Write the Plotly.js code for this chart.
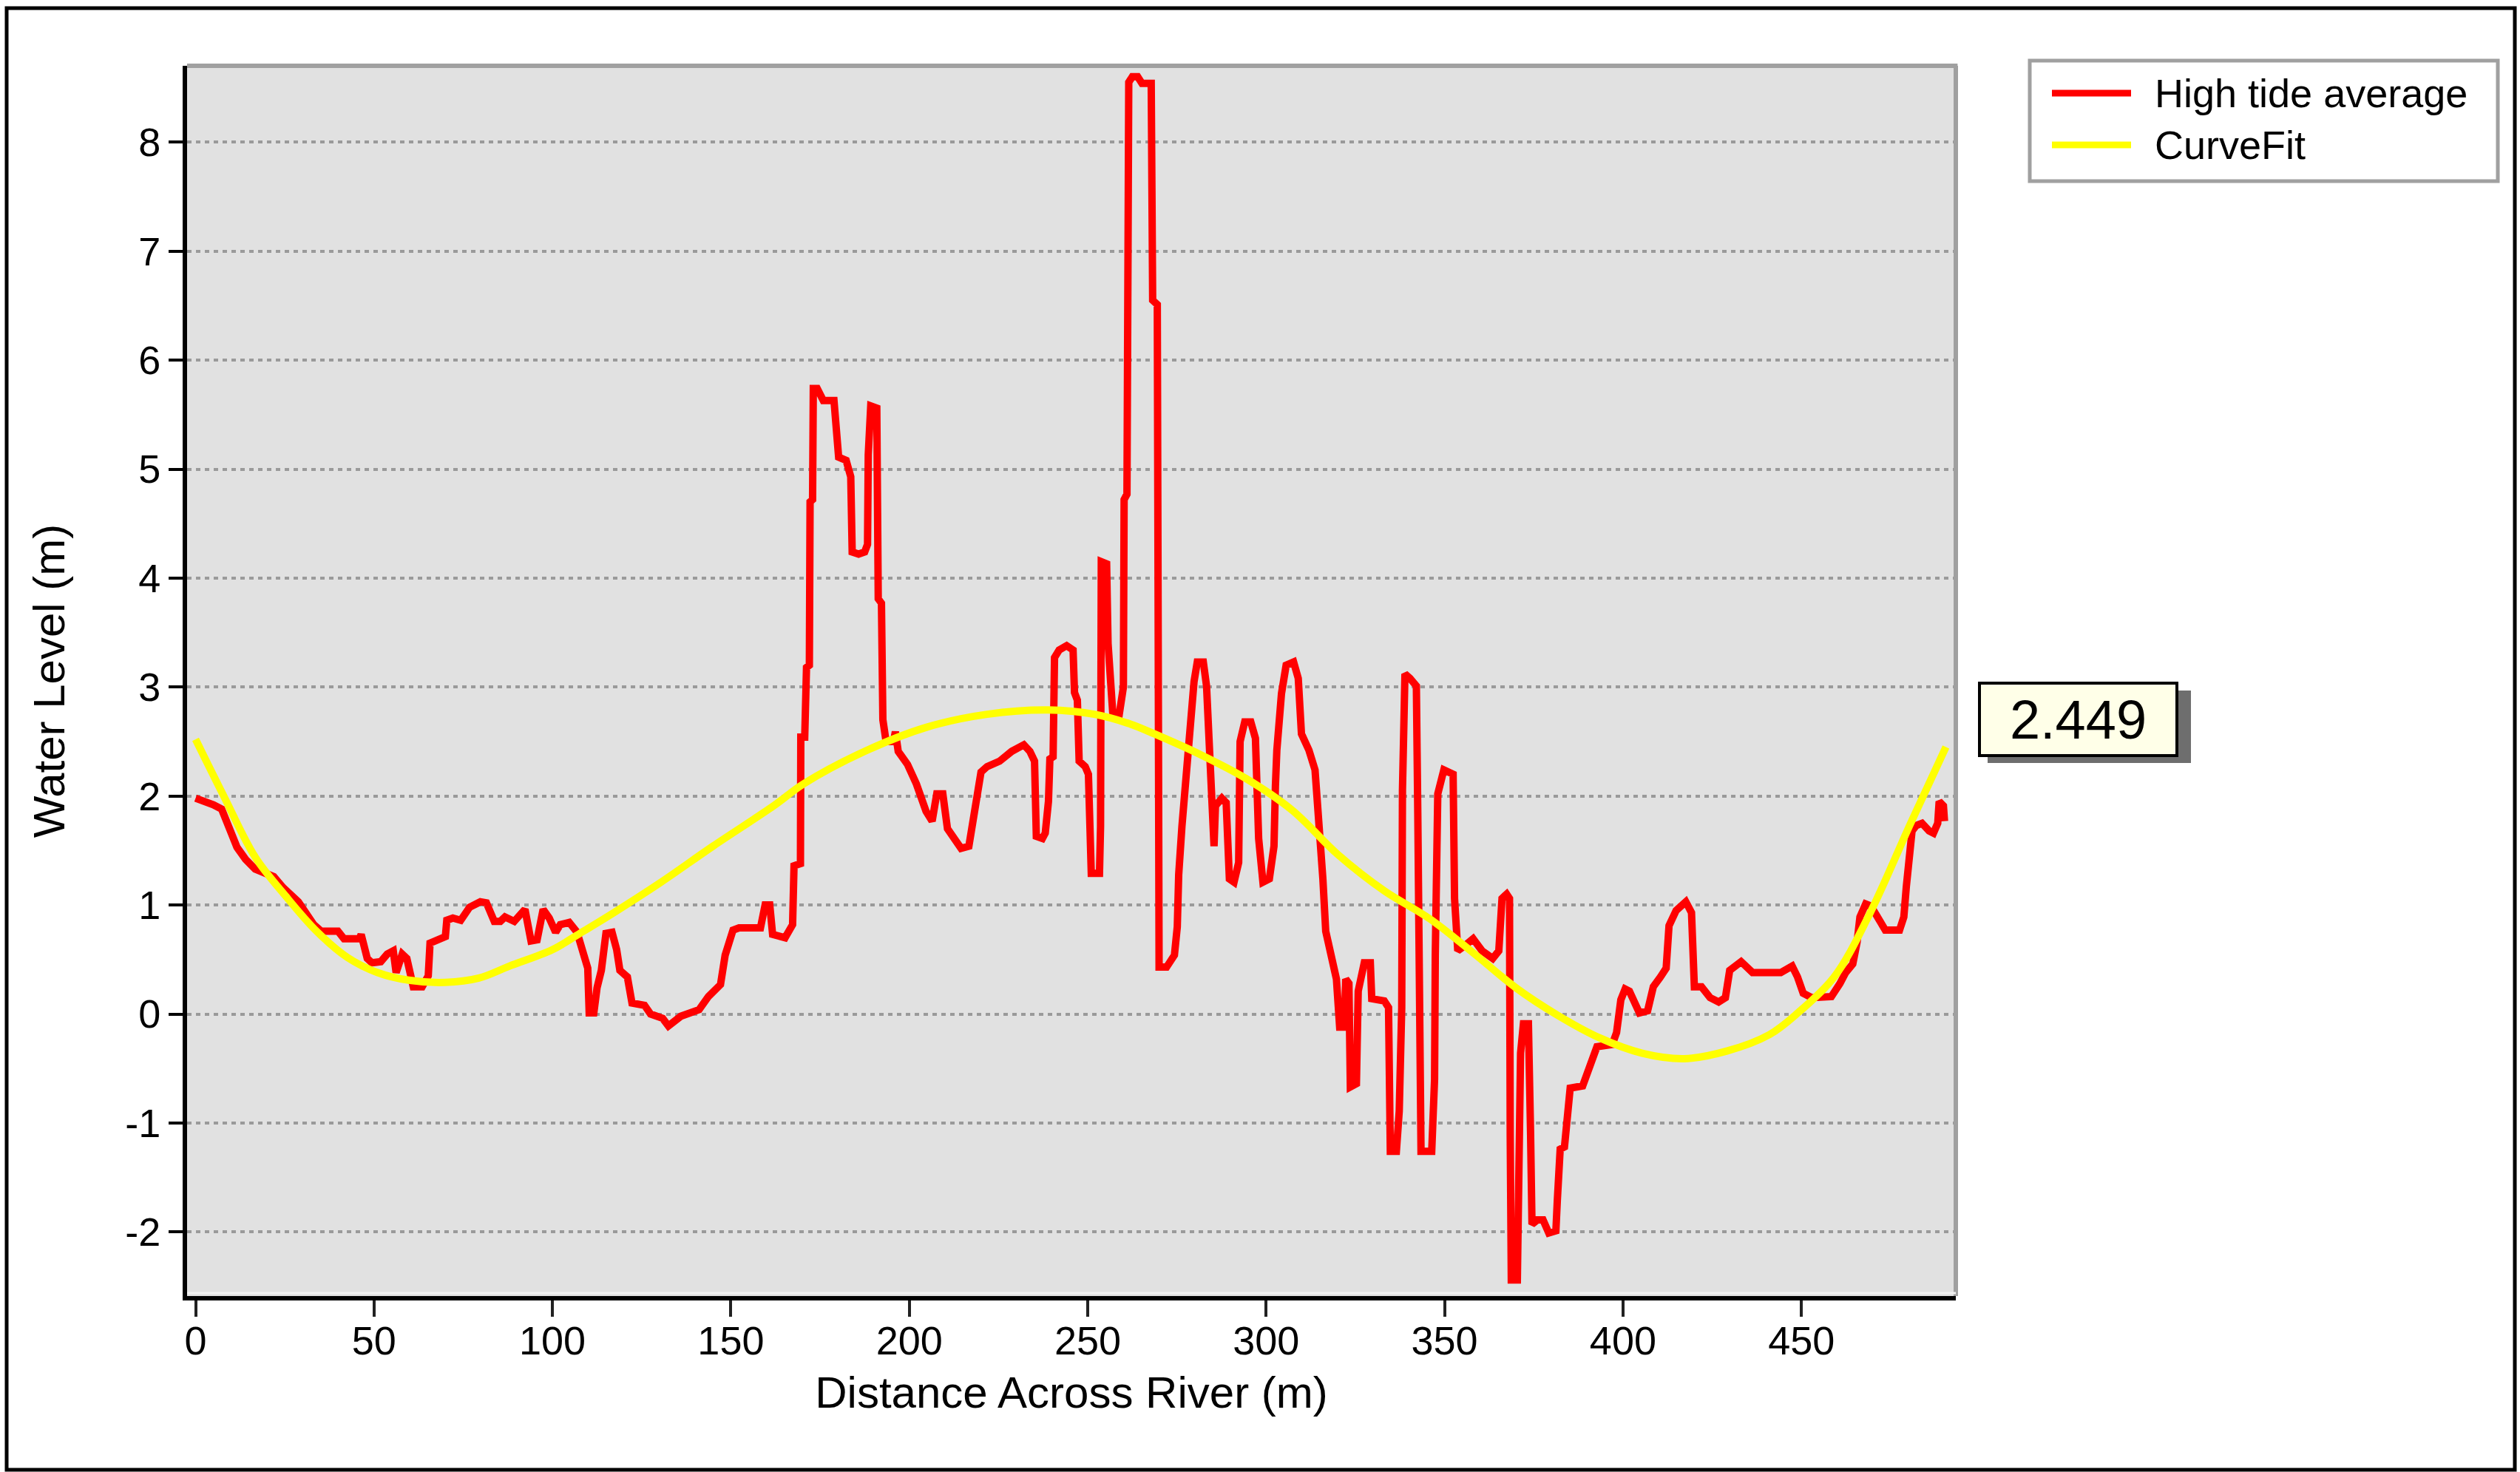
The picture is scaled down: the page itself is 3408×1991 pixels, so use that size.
<!DOCTYPE html>
<html>
<head>
<meta charset="utf-8">
<script src="https://cdn.plot.ly/plotly-3.0.1.min.js"></script>
<style>
  html, body { margin: 0; padding: 0; background: #fff; }
  #chart { width: 3408px; height: 1991px; }
</style>
</head>
<body>
<div id="chart"></div>
<script>
// ================= DATA =================
const seriesNames = ['High tide average', 'CurveFit'];

// red series: distance (m) / water level (m)
const tideDist = [
  0, 2, 5, 7.3, 8.6, 11.6, 14, 16.7, 21.9, 24.5, 28.8, 33.1, 35.2, 39.9, 41.6, 45.9, 46.4, 48.1, 49.4, 51.9,
  53.7, 55.4, 56.2, 57.9, 59.2, 60.5, 61, 63.5, 65.2, 65.7, 67.4, 70, 70.4, 72.1, 74.3, 76.8, 79.8, 81.5, 83.7, 85.4,
  86.7, 89.3, 92.3, 94, 95.7, 97.4, 99.1, 100.9, 102.2, 104.7, 106.9, 108.6, 109.9, 110.3, 111.6, 112.5, 113.7, 115, 116.7, 118,
  118.9, 121, 122.3, 125.8, 127.5, 130.9, 132.5, 136, 141.1, 143.7, 147.1, 148.4, 150.6, 152.3, 158.3, 159.6, 160.9, 161.7, 165.2, 167.3,
  167.7, 169.5, 169.6, 170.7, 171.2, 172, 172.2, 172.9, 173.1, 174.2, 175.9, 178.9, 179.8, 180.2, 182.3, 183.6, 184, 185.8, 187.5, 188.3,
  188.5, 189.2, 190.9, 191.3, 192.2, 192.6, 193.5, 195.6, 196.1, 196.9, 199.5, 202, 204.7, 206.4, 207.7, 209.4, 210.7, 212.8, 214.5, 216.7,
  218.4, 220.1, 221.8, 225.3, 228.7, 232.1, 233.8, 235.1, 235.6, 237.3, 238.1, 239, 239.4, 240.3, 240.7, 242, 244.1, 245.9, 246.3, 247.1,
  247.6, 249.3, 250.2, 250.6, 251, 253.3, 253.6, 253.8, 255.3, 255.7, 256.6, 257, 258.7, 260, 260.2, 261, 261.5, 262.5, 264, 265.2,
  267.8, 268.2, 269.5, 269.6, 270, 272.1, 274.3, 275.1, 275.5, 276.4, 277.7, 278.5, 279.8, 280.7, 282.4, 283.3, 284.1, 284.6, 285.4, 285.8,
  287.6, 288.8, 289.7, 291, 292.3, 292.7, 294, 295.7, 297, 297.9, 299.1, 300.9, 302.2, 302.6, 303, 304.3, 305.6, 307.7, 309, 309.9,
  312, 313.7, 315, 315.9, 316.7, 318.5, 319.7, 320.6, 321.9, 322.3, 323.2, 323.6, 325.3, 325.8, 326.6, 327.5, 329.2, 329.6, 333.1, 334.3,
  334.8, 336.5, 337.3, 338, 338.2, 338.9, 340.3, 342.1, 342.5, 342.9, 343.4, 346.4, 347.2, 347.4, 348.1, 349.8, 352.4, 352.8, 353.7, 355.4,
  358, 360.5, 363.5, 365.2, 366.1, 367.4, 368.2, 368.4, 368.7, 370.4, 370.8, 371.3, 372.1, 373.5, 374.1, 374.5, 376, 377.6, 379.2, 381.2,
  381.6, 382.4, 383.6, 384.4, 385.2, 388.7, 390.3, 391.9, 392.7, 397, 398.2, 399.4, 400.6, 401.8, 404.6, 406.9, 408.5, 410.5, 412.1, 412.9,
  414.9, 417.6, 419.2, 420, 422, 424.4, 426.8, 428.7, 429.9, 433.1, 436.3, 444.2, 447.4, 448.9, 450.5, 452.9, 458.4, 460.8, 462.4, 464.4,
  465.6, 466.4, 468, 469.5, 471.1, 473.5, 477.5, 478.7, 479.4, 480.2, 481, 482.2, 483.8, 485.8, 487, 488.2, 488.6, 489.8, 490.1
];
const tideLevel = [
  1.98, 1.96, 1.92, 1.88, 1.76, 1.53, 1.42, 1.33, 1.26, 1.16, 1.03, 0.82, 0.76, 0.76, 0.69, 0.69, 0.73, 0.51, 0.47, 0.48,
  0.55, 0.58, 0.38, 0.55, 0.51, 0.35, 0.25, 0.25, 0.35, 0.65, 0.68, 0.71, 0.86, 0.88, 0.86, 0.98, 1.03, 1.02, 0.85, 0.85,
  0.89, 0.85, 0.96, 0.67, 0.68, 0.96, 0.88, 0.75, 0.82, 0.84, 0.75, 0.59, 0.42, 0.01, 0.01, 0.24, 0.40, 0.74, 0.75, 0.59,
  0.40, 0.34, 0.10, 0.08, 0.0, -0.04, -0.11, -0.02, 0.04, 0.16, 0.27, 0.54, 0.77, 0.79, 0.79, 1.0, 1.0, 0.73, 0.70, 0.82,
  1.36, 1.38, 2.54, 2.54, 3.18, 3.2, 4.70, 4.72, 5.74, 5.74, 5.63, 5.63, 5.29, 5.11, 5.08, 4.93, 4.24, 4.22, 4.24, 4.31,
  5.13, 5.58, 5.56, 3.81, 3.77, 2.70, 2.50, 2.50, 2.59, 2.41, 2.29, 2.11, 1.86, 1.77, 2.02, 2.02, 1.70, 1.61, 1.52, 1.54,
  1.91, 2.22, 2.27, 2.32, 2.41, 2.47, 2.41, 2.32, 1.63, 1.61, 1.66, 1.95, 2.34, 2.36, 3.27, 3.34, 3.38, 3.34, 2.95, 2.88,
  2.32, 2.27, 2.20, 1.77, 1.29, 1.29, 1.72, 4.15, 4.13, 3.40, 3.0, 2.77, 2.72, 3.0, 4.72, 4.77, 8.55, 8.6, 8.6, 8.54,
  8.54, 6.55, 6.51, 2.57, 0.43, 0.43, 0.54, 0.80, 1.28, 1.72, 2.20, 2.68, 3.05, 3.23, 3.23, 3.01, 2.42, 1.87, 1.54, 1.91,
  1.98, 1.94, 1.24, 1.21, 1.39, 2.50, 2.68, 2.68, 2.53, 1.61, 1.21, 1.24, 1.54, 2.09, 2.42, 2.94, 3.20, 3.23, 3.08, 2.57,
  2.42, 2.24, 1.72, 1.24, 0.76, 0.51, 0.32, -0.12, -0.12, 0.32, 0.28, -0.67, -0.64, 0.21, 0.36, 0.47, 0.47, 0.14, 0.12, 0.06,
  -1.26, -1.26, -0.89, 0.06, 2.05, 3.12, 3.08, 3.01, 1.83, -0.16, -1.26, -1.26, -0.60, 0.54, 2.02, 2.24, 2.20, 1.06, 0.58, 0.62,
  0.69, 0.58, 0.51, 0.58, 1.06, 1.10, 1.06, -1.12, -2.44, -2.44, -1.12, -0.36, -0.09, -0.09, -1.09, -1.93, -1.89, -1.89, -2.01, -1.99,
  -1.71, -1.24, -1.22, -1.01, -0.68, -0.66, -0.50, -0.34, -0.30, -0.28, -0.17, 0.13, 0.23, 0.21, 0.01, 0.03, 0.25, 0.34, 0.42, 0.81,
  0.95, 1.03, 0.93, 0.25, 0.25, 0.15, 0.11, 0.15, 0.40, 0.48, 0.38, 0.38, 0.44, 0.34, 0.19, 0.15, 0.16, 0.28, 0.38, 0.46,
  0.66, 0.89, 1.01, 0.99, 0.89, 0.77, 0.77, 0.89, 1.17, 1.48, 1.68, 1.73, 1.75, 1.68, 1.66, 1.75, 1.95, 1.91, 1.77
];

// yellow series: curve fit, read at intervals along the drawn curve
const fitDist = [
  0, 8.2, 16.7, 25.3, 33.9, 42.5, 51, 59.7, 70, 79.4, 88, 100, 107.7, 117.2, 130, 145, 162, 170.3, 187.5, 204.7,
  221.8, 239, 251.9, 262, 268.7, 281.6, 294.4, 307.3, 320.2, 333.1, 346, 358.8, 370, 381.6, 393.5, 405.4, 417.2, 429.1, 441, 449,
  459.2, 468.7, 480.6, 490.5
];
const fitLevel = [
  2.52, 1.98, 1.44, 1.08, 0.76, 0.52, 0.38, 0.31, 0.29, 0.33, 0.44, 0.59, 0.74, 0.93, 1.2, 1.54, 1.91, 2.11, 2.41, 2.63,
  2.75, 2.79, 2.75, 2.66, 2.57, 2.38, 2.16, 1.87, 1.46, 1.13, 0.87, 0.54, 0.24, -0.01, -0.22, -0.36, -0.41, -0.34, -0.19, 0.01,
  0.34, 0.89, 1.75, 2.45
];

const cursorValue = 2.449;
const xTicks = [0, 50, 100, 150, 200, 250, 300, 350, 400, 450];
const yTicks = [-2, -1, 0, 1, 2, 3, 4, 5, 6, 7, 8];
const yTickText = ['-2', '-1', '0', '1', '2', '3', '4', '5', '6', '7', '8'];

// ================= FRAME (pixel geometry of the original) =================
const W = 3408, H = 1991;
const plotL = 253, plotR = 2645, plotT = 89, plotB = 1753;
const xZeroPx = 264.5, pxPerM = 4.826;     // x = 0 position and scale
const yZeroPx = 1371.5, pxPerUnit = 147.4; // y = 0 position and scale

function px(x) { return (x - plotL) / (plotR - plotL); }
function py(y) { return (plotB - y) / (plotB - plotT); }

const FONT = '"Liberation Sans", Arial, sans-serif';

let traceTide = {
    x: tideDist, y: tideLevel, mode: 'lines', name: seriesNames[0],
    line: { color: '#ff0000', width: 10 }, hoverinfo: 'x+y'
};
let traceFit = {
    x: fitDist, y: fitLevel, mode: 'lines', name: seriesNames[1],
    line: { color: '#ffff00', width: 10, shape: 'spline', smoothing: 1 }, hoverinfo: 'x+y'
};

let shapes = [
    // outer picture frame
    { type: 'rect', xref: 'paper', yref: 'paper', x0: px(9), x1: px(3401), y0: py(1988), y1: py(11),
      line: { color: '#000', width: 5 }, layer: 'above' },
    // grey top / right edges of the plot box
    { type: 'line', xref: 'paper', yref: 'paper', x0: 0, x1: 1.001, y0: 1, y1: 1, line: { color: '#a0a0a0', width: 6 }, layer: 'above' },
    { type: 'line', xref: 'paper', yref: 'paper', x0: 1, x1: 1, y0: 0, y1: 1, line: { color: '#a0a0a0', width: 6 }, layer: 'above' },
    // light strip along the bottom edge
    { type: 'line', xref: 'paper', yref: 'paper', x0: 0, x1: 1, y0: py(1749), y1: py(1749), line: { color: '#f2f2f2', width: 3 }, layer: 'above' },
    // legend box
    { type: 'rect', xref: 'paper', yref: 'paper', x0: px(2745), x1: px(3378), y0: py(245), y1: py(82),
      line: { color: '#a0a0a0', width: 5 }, fillcolor: '#fff', layer: 'above' },
    { type: 'line', xref: 'paper', yref: 'paper', x0: px(2775), x1: px(2882), y0: py(126), y1: py(126),
      line: { color: '#ff0000', width: 9 }, layer: 'above' },
    { type: 'line', xref: 'paper', yref: 'paper', x0: px(2775), x1: px(2882), y0: py(196), y1: py(196),
      line: { color: '#ffff00', width: 9 }, layer: 'above' },
    // drop shadow of the value box
    { type: 'rect', xref: 'paper', yref: 'paper', x0: px(2688), x1: px(2963), y0: py(1032), y1: py(934),
      line: { width: 0 }, fillcolor: '#6e6e6e', layer: 'above' }
];

let annotations = [
    { xref: 'paper', yref: 'paper', x: px(2912), y: py(126), xanchor: 'left', yanchor: 'middle', showarrow: false,
      text: seriesNames[0], font: { family: FONT, size: 54, color: '#000' } },
    { xref: 'paper', yref: 'paper', x: px(2912), y: py(196), xanchor: 'left', yanchor: 'middle', showarrow: false,
      text: seriesNames[1], font: { family: FONT, size: 54, color: '#000' } },
    { xref: 'paper', yref: 'paper', x: px(2811), y: py(973), xanchor: 'center', yanchor: 'middle', showarrow: false,
      text: cursorValue.toFixed(3), font: { family: FONT, size: 74, color: '#000' },
      bgcolor: '#ffffe8', bordercolor: '#000', borderwidth: 4, borderpad: 0, width: 263, height: 94 }
];

let layout = {
    width: W, height: H,
    margin: { l: plotL, r: W - plotR, t: plotT, b: H - plotB, pad: 0 },
    paper_bgcolor: '#fff', plot_bgcolor: '#e1e1e1',
    font: { family: FONT, color: '#000' },
    showlegend: false,
    xaxis: {
        range: [(plotL - xZeroPx) / pxPerM, (plotR - xZeroPx) / pxPerM],
        tickvals: xTicks, ticks: 'outside', ticklen: 22, tickwidth: 4, tickcolor: '#222',
        ticklabelstandoff: -14,
        showline: true, linecolor: '#000', linewidth: 6, showgrid: false, zeroline: false,
        tickfont: { size: 54, color: '#000' }, automargin: false,
        title: { text: 'Distance Across River (m)', font: { size: 60, color: '#000' }, standoff: 22 }
    },
    yaxis: {
        range: [(yZeroPx - plotB) / pxPerUnit, (yZeroPx - plotT) / pxPerUnit],
        tickvals: yTicks, ticktext: yTickText, ticks: 'outside', ticklen: 19, tickwidth: 4, tickcolor: '#000',
        showline: true, linecolor: '#000', linewidth: 6, zeroline: false,
        showgrid: true, gridcolor: '#9a9a9a', gridwidth: 4, griddash: '6px,6px',
        tickfont: { size: 54, color: '#000' }, automargin: false,
        title: { text: 'Water Level (m)', font: { size: 60, color: '#000' }, standoff: 64 }
    },
    shapes: shapes,
    annotations: annotations
};

Plotly.newPlot('chart', [traceTide, traceFit], layout, { staticPlot: true });
</script>
</body>
</html>
